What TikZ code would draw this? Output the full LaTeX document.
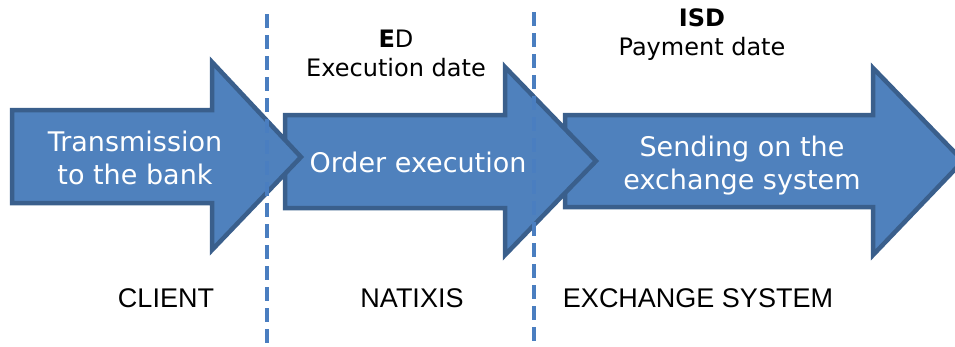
\documentclass[tikz,border=0pt]{standalone}
\usepackage{fontspec}
\setmainfont{DejaVu Sans}
\newfontfamily\labelfont{Liberation Sans}
\definecolor{arrowfill}{HTML}{4F81BD}
\definecolor{arrowedge}{HTML}{3A5F8C}
\definecolor{dashblue}{HTML}{4A7EC0}
\begin{document}
\begin{tikzpicture}[x=1pt,y=-1pt,
  bigarrow/.style={fill=arrowfill,draw=arrowedge,line width=4.5pt,line join=miter},
  arrowtext/.style={text=white,font=\fontsize{27}{33}\selectfont,align=center,inner sep=0pt},
  toplabel/.style={text=black,font=\fontsize{24}{29}\selectfont,align=center,inner sep=0pt},
  bottomlabel/.style={text=black,font=\labelfont\fontsize{27}{30}\selectfont,inner sep=0pt,anchor=base},
  divider/.style={draw=dashblue,line width=4pt,dash pattern=on 14pt off 7pt}]
\useasboundingbox (0,0) rectangle (955,346);
\begin{scope}
\clip (0,0) rectangle (955,346);
% arrow 3
\draw[bigarrow] (565,115) -- (873,115) -- (873,68) -- (963,161) -- (873,255) -- (873,207) -- (565,207) -- cycle;
% arrow 2
\draw[bigarrow] (285,115) -- (505,115) -- (505,67) -- (596,161) -- (505,255) -- (505,208) -- (285,208) -- cycle;
% arrow 1
\draw[bigarrow] (12,110) -- (212,110) -- (212,62) -- (301,157) -- (212,250) -- (212,203) -- (12,203) -- cycle;
\end{scope}
% dividers
\coordinate (d1top) at (267,14);
\coordinate (d1bot) at (267,346);
\coordinate (d2top) at (534,12);
\coordinate (d2bot) at (534,346);
\draw[divider] (d1top) -- (d1bot);
\draw[divider] (d2top) -- (d2bot);
% arrow texts
\node[arrowtext] (t1) at (135,158) {Transmission\\to the bank};
\node[arrowtext] (t2) at (418,162) {Order execution};
\node[arrowtext] (t3) at (742,166) {Sending on the\\exchange system};
% top labels
\node[toplabel] (ed) at (396,53) {\textbf{E}D\\Execution date};
\node[toplabel] (isd) at (702,35) {\textbf{ISD}\\Payment date};
% bottom labels
\node[bottomlabel] (client) at (166,307) {CLIENT};
\node[bottomlabel] (natixis) at (412,307) {NATIXIS};
\node[bottomlabel] (exch) at (698,307) {EXCHANGE SYSTEM};
\end{tikzpicture}
\end{document}
